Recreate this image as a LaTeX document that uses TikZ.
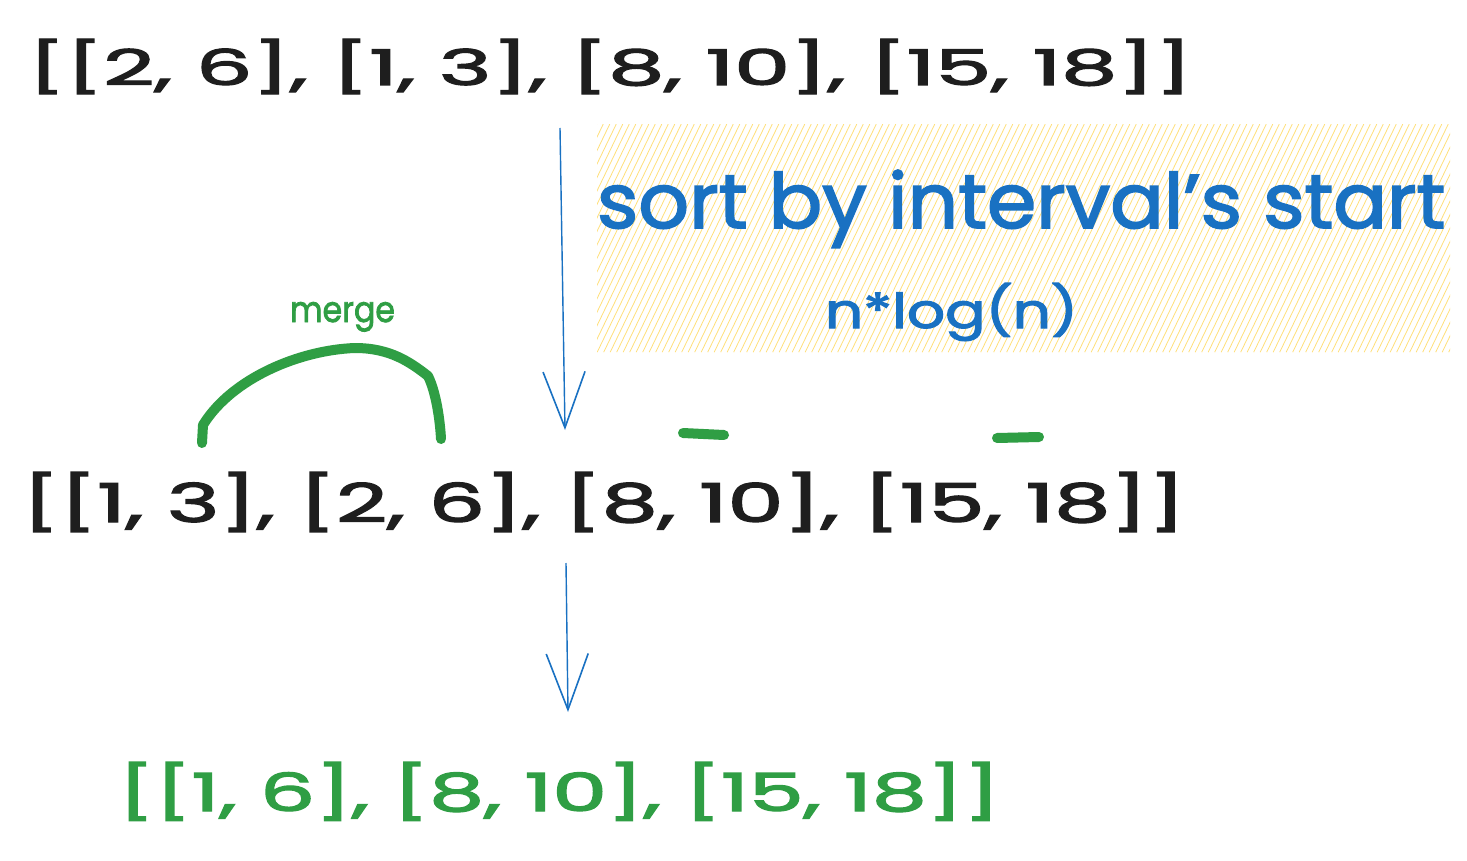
\documentclass[tikz,border=0pt]{standalone}
\usepackage{fontspec}
\setmainfont{Poppins}[FakeBold=2.2]
\usetikzlibrary{arrows.meta}
\definecolor{inkblack}{HTML}{1E1E1E}
\definecolor{inkblue}{HTML}{1971C2}
\definecolor{inkgreen}{HTML}{2F9E44}
\definecolor{hatchyellow}{HTML}{FFE07A}
\newcommand{\fitt}[3]{\resizebox{#1}{#2}{#3}}
\tikzset{
  txt/.style={anchor=base west, inner sep=0pt, outer sep=0pt},
  flowarrow/.style={draw=inkblue, line width=1.4pt, -{Straight Barb[length=56pt,width=42pt,line width=1.6pt]}},
  greenstroke/.style={draw=inkgreen, line width=10pt, line cap=round, line join=round},
}
\begin{document}
\begin{tikzpicture}[x=1pt,y=-1pt]
\useasboundingbox[fill=white] (0,0) rectangle (1467,861);
% hatched background
\node[inner sep=0pt, minimum width=853pt, minimum height=228pt, anchor=north west,
  path picture={
    \begin{scope}[x=1pt,y=-1pt]
    \foreach \i in {-150,...,140}{
      \draw[hatchyellow, line width=0.8pt] ([xshift=\i*6.5pt]path picture bounding box.south west) -- ++(110,-228);
    }
    \end{scope}
  }] (hatch) at (597,124) {};
% texts
\node[txt, text=inkblack] (l1) at (28,85) {\fitt{1164pt}{46pt}{[[2, 6], [1, 3], [8, 10], [15, 18]]}};
\node[txt, text=inkblue] (sort) at (597,228) {\fitt{848pt}{58pt}{sort by interval's start}};
\node[txt, text=inkblue] (nlog) at (825,328) {\fitt{253pt}{45pt}{n*log(n)}};
\node[txt, text=inkgreen] (merge) at (290,322) {\fitt{105pt}{20pt}{merge}};
\node[txt, text=inkblack] (l2) at (22,522) {\fitt{1163pt}{50pt}{[[1, 3], [2, 6], [8, 10], [15, 18]]}};
\node[txt, text=inkgreen] (l3) at (118,811) {\fitt{882pt}{49pt}{[[1, 6], [8, 10], [15, 18]]}};
% arrows
\coordinate (a1s) at (560,128);
\coordinate (a1e) at (565,430);
\coordinate (a2s) at (566,563);
\coordinate (a2e) at (568,712);
\draw[flowarrow] (a1s) -- (a1e);
\draw[flowarrow] (a2s) -- (a2e);
% merge arc
\coordinate (m1) at (202,443);
\coordinate (m2) at (441,439);
\draw[greenstroke] (m1) -- (203,425) .. controls (232,378) and (300,350) .. (355,348)
  .. controls (390,348) and (410,362) .. (428,376) .. controls (436,392) and (440,420) .. (m2);
% dashes
\coordinate (d1a) at (683,433);
\coordinate (d1b) at (724,435);
\coordinate (d2a) at (997,438);
\coordinate (d2b) at (1039,437);
\draw[greenstroke] (d1a) -- (d1b);
\draw[greenstroke] (d2a) -- (d2b);
\end{tikzpicture}
\end{document}
